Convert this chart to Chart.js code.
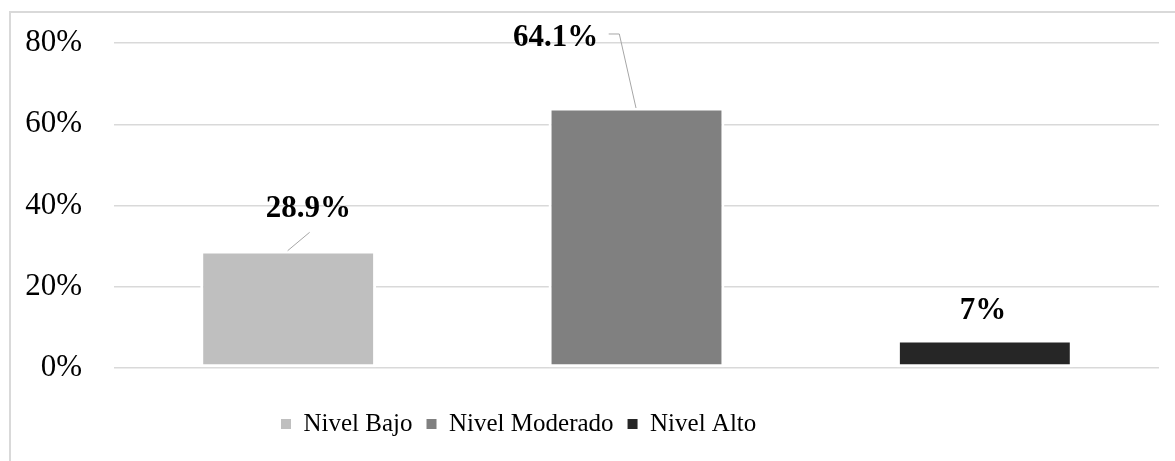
<!DOCTYPE html>
<html><head><meta charset="utf-8">
<script src="https://cdn.jsdelivr.net/npm/chart.js@4.4.1/dist/chart.umd.min.js"></script>
<style>
html,body{margin:0;padding:0;background:#fff;}
#wrap{position:relative;width:1175px;height:461px;overflow:hidden;background:#fff;}
#frame{position:absolute;left:9px;top:11px;width:1300px;height:600px;border-left:2px solid #d9d9d9;border-top:2px solid #d9d9d9;}
canvas{position:absolute;left:0;top:0;}
</style></head><body>
<div id="wrap"><div id="frame"></div><canvas id="c" width="1175" height="461"></canvas></div>
<script>
// ---- data ----
const categories = ['Nivel Bajo', 'Nivel Moderado', 'Nivel Alto'];
const seriesNames = ['Nivel Bajo', 'Nivel Moderado', 'Nivel Alto'];
const nivelBajo = [28.9, null, null];
const nivelModerado = [null, 64.1, null];
const nivelAlto = [null, null, 7];
const yTicks = [0, 20, 40, 60, 80];

// ---- styles ----
const colors = ['#bfbfbf', '#808080', '#262626'];
const FONT = "'Liberation Serif', 'Times New Roman', serif";

// label placement relative to the top-centre of each bar (Excel manual positions)
const labelPlacement = [
  {dx: 20.3, dy: -41.6, leader: [[21.5, -18.3], [-0.5, 0.1]]},
  {dx: -81, dy: -69.6, leader: [[-27.8, -73.6], [-17.2, -73.6], [-0.5, 0.4]]},
  {dx: -1.8, dy: -29, leader: null}
];

const seriesData = [nivelBajo, nivelModerado, nivelAlto];

const dataLabels = {
  id: 'dataLabels',
  afterDatasetsDraw(chart) {
    const ctx = chart.ctx;
    chart.data.datasets.forEach((ds, i) => {
      const meta = chart.getDatasetMeta(i);
      ds.data.forEach((v, j) => {
        if (v === null || v === undefined) return;
        const el = meta.data[j];
        const p = labelPlacement[i];
        ctx.save();
        if (p.leader) {
          ctx.strokeStyle = '#a6a6a6';
          ctx.lineWidth = 1;
          ctx.beginPath();
          p.leader.forEach((pt, k) => {
            const x = el.x + pt[0], y = el.y + pt[1];
            if (k === 0) ctx.moveTo(x, y); else ctx.lineTo(x, y);
          });
          ctx.stroke();
        }
        ctx.fillStyle = '#000';
        ctx.font = "bold 31px " + FONT;
        ctx.textAlign = 'center';
        ctx.textBaseline = 'middle';
        ctx.fillText(v + '%', el.x + p.dx, el.y + p.dy);
        ctx.restore();
      });
    });
  }
};

const legendShift = {
  id: 'legendShift',
  afterLayout(chart) {
    const lg = chart.legend;
    if (!lg) return;
    const pad = lg.options.labels.padding;
    const itemH = lg.options.labels.font.size;
    const dy = 424 - (lg.top + pad + itemH / 2);
    lg.top += dy; lg.bottom += dy;
    const lw = lg.lineWidths ? lg.lineWidths[0] : 0;
    const start = (lg.left + pad + lg.right - lw) / 2;
    const dx = 281 - start;
    lg.left += dx; lg.right += dx;
  }
};

new Chart(document.getElementById('c'), {
  type: 'bar',
  data: {
    labels: categories,
    datasets: seriesData.map((d, i) => ({
      label: seriesNames[i],
      data: d,
      backgroundColor: colors[i],
      borderColor: '#ffffff',
      borderWidth: 3,
      borderSkipped: false,
      grouped: false,
      categoryPercentage: 1,
      barPercentage: 0.505
    }))
  },
  options: {
    responsive: false,
    devicePixelRatio: 1,
    animation: false,
    layout: {padding: {left: 0, right: 16, top: 43, bottom: 44}},
    scales: {
      x: {display: false},
      y: {
        min: 0, max: 80,
        afterFit(s) { s.width = 114; s.paddingTop = 0; s.paddingBottom = 0; },
        afterBuildTicks(s) { s.ticks = yTicks.map(v => ({value: v})); },
        border: {display: false},
        grid: {color: '#d9d9d9', lineWidth: 1.5, drawTicks: false},
        ticks: {
          padding: 32,
          color: '#000',
          font: {family: FONT, size: 31},
          callback: v => v + '%'
        }
      }
    },
    plugins: {
      tooltip: {enabled: false},
      legend: {
        position: 'bottom',
        align: 'center',
        labels: {
          color: '#000',
          font: {family: FONT, size: 25},
          boxWidth: 10,
          boxHeight: 10,
          padding: 14,
          generateLabels(chart) {
            return Chart.defaults.plugins.legend.labels.generateLabels(chart)
              .map(l => Object.assign(l, {lineWidth: 0, strokeStyle: 'rgba(0,0,0,0)'}));
          }
        }
      }
    }
  },
  plugins: [dataLabels, legendShift]
});
</script>
</body></html>
